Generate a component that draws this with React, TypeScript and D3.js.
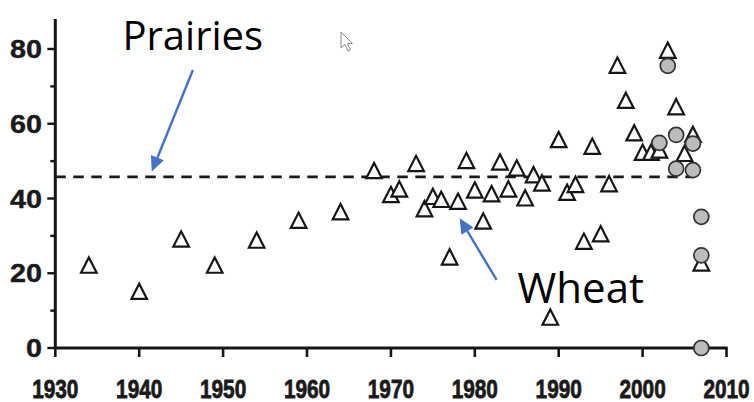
import React from "react";
import * as d3 from "d3";

const wheatYears = [1934, 1940, 1945, 1949, 1954, 1959, 1964, 1968, 1970, 1971, 1973, 1974, 1975, 1976, 1977, 1978, 1979, 1980, 1981, 1982, 1983, 1984, 1985, 1986, 1987, 1988, 1989, 1990, 1991, 1992, 1993, 1994, 1995, 1996, 1997, 1998, 1999, 2000, 2001, 2002, 2003, 2004, 2005, 2006, 2007];
const wheatValues = [22, 15, 29, 22, 28.7, 34, 36.3, 47.3, 40.9, 42.4, 49.2, 37.1, 40.4, 39.6, 24.2, 39.1, 50, 42.1, 33.8, 41.1, 49.6, 42.4, 48, 40, 46.2, 44, 8.1, 55.6, 41.5, 43.6, 28.4, 53.8, 30.4, 43.8, 75.5, 66.1, 57.4, 52.2, 52.2, 52.8, 79.5, 64.4, 51.9, 57, 22.6];

const circleYears = [2002, 2003, 2004, 2004, 2006, 2006, 2007, 2007, 2007];
const circleValues = [54.9, 75.5, 57, 48, 54.7, 47.6, 35.1, 24.8, 0];

const prairieMean = 45.8;
const prairieSpan = [1930, 2006];

const xTicks = [1930, 1940, 1950, 1960, 1970, 1980, 1990, 2000, 2010];
const yMajor = [0, 20, 40, 60, 80];
const yMinor = [10, 30, 50, 70];

const W = 754;
const H = 402;

export default function App() {
  const x = d3.scaleLinear().domain([1930, 2010]).range([55.3, 726.5]);
  const y = d3.scaleLinear().domain([0, 80]).range([348, 49]);
  const axisColor = "#161616";
  const triPath = "M0,-8.3L7.8,7L-7.8,7Z";
  const dashed = d3.line<number>()([[x(prairieSpan[0]), y(prairieMean)], [x(prairieSpan[1]), y(prairieMean)]] as any);

  const arrow = (x1: number, y1: number, x2: number, y2: number, key: string) => {
    const px1 = x(x1), py1 = y(y1), px2 = x(x2), py2 = y(y2);
    const ang = Math.atan2(py2 - py1, px2 - px1);
    const hl = 15, hw = 7;
    const bx = px2 - hl * Math.cos(ang), by = py2 - hl * Math.sin(ang);
    const nx = -Math.sin(ang), ny = Math.cos(ang);
    return (
      <g key={key}>
        <line x1={px1} y1={py1} x2={bx} y2={by} stroke="#4472C4" strokeWidth={2.4} />
        <path d={`M${px2},${py2}L${bx + nx * hw},${by + ny * hw}L${bx - nx * hw},${by - ny * hw}Z`} fill="#4472C4" />
      </g>
    );
  };

  return (
    <svg width={W} height={H} style={{ position: "absolute", left: 0, top: 0, background: "#fff" }}>
      <rect width={W} height={H} fill="#fff" />
      {/* dashed mean line */}
      <path d={dashed || ""} stroke="#1a1a1a" strokeWidth={2.8} strokeDasharray="10.5,7.5" fill="none" />
      {/* axes */}
      <line x1={x(1930)} y1={y(88)} x2={x(1930)} y2={y(0)} stroke={axisColor} strokeWidth={3} />
      <line x1={x(1930)} y1={y(0)} x2={x(2010) + 1.2} y2={y(0)} stroke={axisColor} strokeWidth={3} />
      {yMajor.map((v) => (
        <g key={"ym" + v}>
          <line x1={x(1930) - 8} x2={x(1930)} y1={y(v)} y2={y(v)} stroke={axisColor} strokeWidth={2.4} />
          <text transform={`translate(42,${y(v)}) scale(1.15,1)`} dy="0.36em" textAnchor="end" fontFamily="'Liberation Sans', Arial, sans-serif" fontWeight="bold" fontSize={25} fill="#1a1a1a" stroke="#1a1a1a" strokeWidth={0.4}>{v}</text>
        </g>
      ))}
      {yMinor.map((v) => (
        <line key={"yn" + v} x1={x(1930) - 5} x2={x(1930)} y1={y(v)} y2={y(v)} stroke={axisColor} strokeWidth={2.4} />
      ))}
      {xTicks.map((t) => (
        <g key={"xt" + t}>
          <line x1={x(t)} x2={x(t)} y1={y(0)} y2={y(0) + 9} stroke={axisColor} strokeWidth={2.6} />
          <text transform={`translate(${x(t)},397.5) scale(0.8,1)`} textAnchor="middle" fontFamily="'Liberation Sans', Arial, sans-serif" fontWeight="bold" fontSize={26} fill="#1a1a1a" stroke="#1a1a1a" strokeWidth={0.8}>{t}</text>
        </g>
      ))}
      {/* triangles */}
      {wheatYears.map((yr, i) => (
        <path key={"t" + i} d={triPath} transform={`translate(${x(yr)},${y(wheatValues[i])})`} fill="#fff" stroke="#161616" strokeWidth={2.2} strokeLinejoin="miter" />
      ))}
      {/* circles */}
      {circleYears.map((yr, i) => (
        <circle key={"c" + i} cx={x(yr)} cy={y(circleValues[i])} r={7.5} fill="#bcbcbc" stroke="#333" strokeWidth={1.7} />
      ))}
      {/* annotations */}
      <text x={x(1938)} y={y(79.7)} fontFamily="'Open Sans', sans-serif" fontSize={40} fill="#000">Prairies</text>
      <text x={x(1985.1)} y={y(12)} fontFamily="'Open Sans', sans-serif" fontSize={42} fill="#000">Wheat</text>
      {arrow(1946.4, 74.4, 1941.5, 47.2, "a1")}
      {arrow(1982.6, 18.2, 1978.2, 34.7, "a2")}
      {/* mouse cursor */}
      <path d="M0,0L0,16L4,12.5L7,19L9.5,18L6.5,11.5L11.5,11.5Z" transform="translate(341,32)" fill="#fff" stroke="#8a8a8a" strokeWidth={1} />
    </svg>
  );
}
